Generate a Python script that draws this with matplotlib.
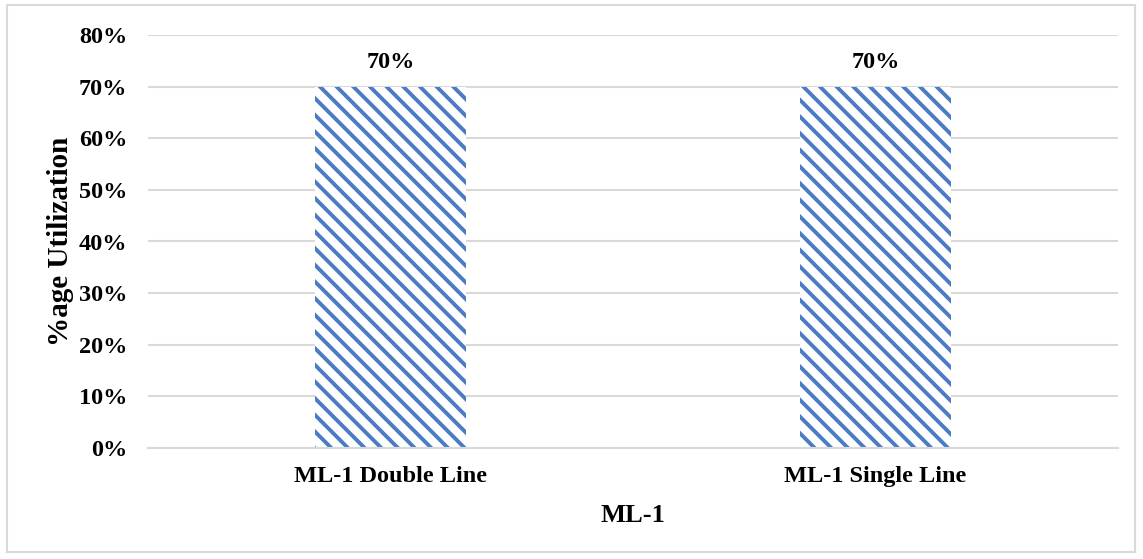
import matplotlib.pyplot as plt
from matplotlib.patches import Rectangle
from matplotlib.ticker import PercentFormatter

categories = ["ML-1 Double Line", "ML-1 Single Line"]
utilization = [70, 70]
yticks = [0, 10, 20, 30, 40, 50, 60, 70, 80]

plt.rcParams["font.family"] = ["Liberation Serif", "DejaVu Serif"]
plt.rcParams["font.weight"] = "bold"
plt.rcParams["hatch.linewidth"] = 2.8

fig = plt.figure(figsize=(11.43, 5.59), dpi=100)
ax = fig.add_axes([148 / 1143, 1 - 448 / 559, 970 / 1143, 413 / 559])

blue = "#4a7cc4"
grid = "#d9d9d9"

x = range(len(categories))
bars = ax.bar(x, utilization, width=0.313, color="white", edgecolor=blue,
              linewidth=0, hatch="\\\\", zorder=2)

for b, v in zip(bars, utilization):
    ax.annotate(f"{v}%", (b.get_x() + b.get_width() / 2, v), xytext=(0, 10),
                textcoords="offset points", ha="center", va="bottom",
                fontsize=17.5, fontweight="bold")

ax.set_xlim(-0.5, len(categories) - 0.5)
ax.set_ylim(0, 80)
ax.set_yticks(yticks)
ax.yaxis.set_major_formatter(PercentFormatter(decimals=0))
ax.set_xticks(list(x))
ax.set_xticklabels(categories)
ax.tick_params(axis="both", length=0, labelsize=17.5)
ax.tick_params(axis="y", pad=15)
ax.tick_params(axis="x", pad=13)
for lab in ax.get_xticklabels() + ax.get_yticklabels():
    lab.set_fontweight("bold")

ax.grid(axis="y", color=grid, linewidth=1.5, zorder=0)
for s in ["top", "right", "left"]:
    ax.spines[s].set_visible(False)
ax.spines["bottom"].set_color(grid)
ax.spines["bottom"].set_linewidth(1.5)

ax.set_ylabel("%age Utilization", fontsize=21, fontweight="bold", labelpad=3)
ax.set_xlabel("ML-1", fontsize=19, fontweight="bold", labelpad=12)

fig.patches.append(Rectangle((7 / 1143, 1 - 552 / 559), 1128 / 1143, 547 / 559,
                             transform=fig.transFigure, fill=False,
                             edgecolor=grid, linewidth=1.5))

fig.savefig("out.png", dpi=100)
